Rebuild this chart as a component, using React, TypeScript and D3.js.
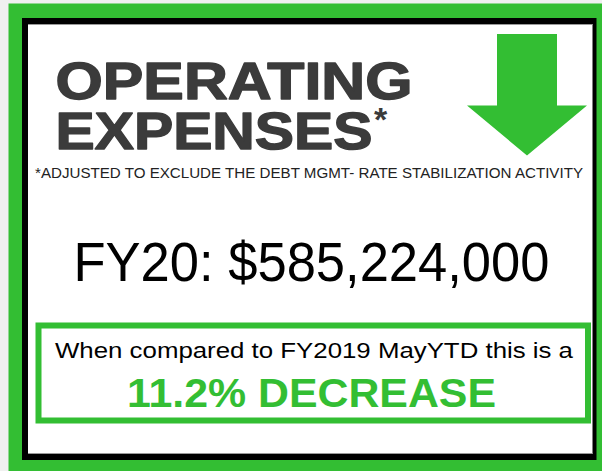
import React from 'react';
import * as d3 from 'd3';

// values
const titleLines = ['OPERATING', 'EXPENSES'];
const footnote = '*ADJUSTED TO EXCLUDE THE DEBT MGMT- RATE STABILIZATION ACTIVITY';
const fiscalYears = ['FY20'];
const expenseValues = [585224000];
const compareLabel = ['When compared to FY2019 MayYTD this is a'];
const changePct = [11.2];
const changeWord = ['DECREASE'];

const W = 602;
const H = 471;
const green = '#33be33';
const dark = '#3b3b3b';

const App: React.FC = () => {
    const fmtMoney = d3.format('$,');
    const fmtPct = d3.format('.1f');

    // arrow drawn with d3.path
    const arrow = d3.path();
    arrow.moveTo(497, 34);
    arrow.lineTo(557, 34);
    arrow.lineTo(557, 105.5);
    arrow.lineTo(587, 105.5);
    arrow.lineTo(527, 155.5);
    arrow.lineTo(467, 105.5);
    arrow.lineTo(497, 105.5);
    arrow.closePath();

    return (
        <svg width={W} height={H} style={{ position: 'absolute', left: 0, top: 0 }}>
            <rect x={0} y={0} width={W} height={H} fill="#f0f0f0" />
            <rect x={8.5} y={3.5} width={W - 8.5} height={H - 3.5} fill={green} />
            <rect x={22} y={18} width={574.5} height={442} fill="#000" />
            <rect x={28} y={24} width={564.5} height={430} fill="#fff" />
            <line x1={28} x2={592.5} y1={24.5} y2={24.5} stroke="#9a9a9a" strokeWidth={1} />
            <line x1={28} x2={592.5} y1={453.5} y2={453.5} stroke="#9a9a9a" strokeWidth={1} />

            <path d={arrow.toString()} fill={green} />

            {/* two title lines in one text element, they sit tight like the reference */}
            <text fontFamily="'Liberation Sans', Arial, sans-serif" fontWeight="bold"
                fontSize={52} fill={dark} stroke={dark} strokeWidth={1.4} strokeLinejoin="round">
                {titleLines.map((t, i) => (
                    <tspan key={t} x={55.5} y={98.5 + i * 50.3}
                        textLength={i === 0 ? 357 : 317} lengthAdjust="spacingAndGlyphs">{t}</tspan>
                ))}
                <tspan x={374} y={131} fontSize={34} stroke="none">*</tspan>
            </text>

            <text x={35} y={177.5} fontFamily="'Liberation Sans', Arial, sans-serif" fontSize={14}
                fill="#222" textLength={548} lengthAdjust="spacingAndGlyphs">{footnote}</text>

            <text x={73.5} y={281} fontFamily="'Liberation Sans', Arial, sans-serif" fontSize={56}
                fill="#000" textLength={476} lengthAdjust="spacingAndGlyphs">
                {`${fiscalYears[0]}: ${fmtMoney(expenseValues[0])}`}
            </text>

            <rect x={38.5} y={325.5} width={549.5} height={95} fill="none" stroke={green} strokeWidth={6} />
            <text x={55} y={358} fontFamily="'Liberation Sans', Arial, sans-serif" fontSize={22}
                fill="#000" textLength={518} lengthAdjust="spacingAndGlyphs">{compareLabel[0]}</text>
            <text x={127} y={407} fontFamily="'Liberation Sans', Arial, sans-serif" fontWeight="bold"
                fontSize={40} fill={green} textLength={369} lengthAdjust="spacingAndGlyphs">
                {`${fmtPct(changePct[0])}% ${changeWord[0]}`}
            </text>
        </svg>
    );
};

export default App;
